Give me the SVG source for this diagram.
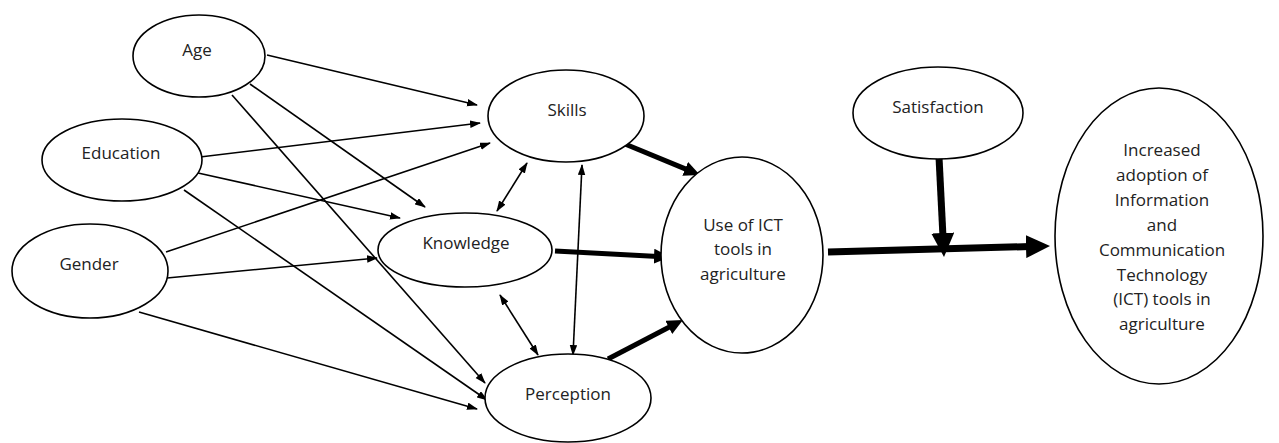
<svg xmlns="http://www.w3.org/2000/svg" width="1279" height="443" viewBox="0 0 1279 443">
  <defs>
    <style>
      .node ellipse { fill: #fff; stroke: #000; stroke-width: 1.6; }
      .node text { font-family: "Open Sans", "Liberation Sans", sans-serif; font-size: 17px; fill: #222; text-anchor: middle; }
      .thin { stroke: #000; stroke-width: 1.6; fill: none; marker-end: url(#ah); }
      .both { marker-start: url(#ah); }
      .thick { stroke: #000; stroke-width: 5; fill: none; marker-end: url(#ahThick); }
      .heavy { stroke: #000; stroke-width: 7; fill: none; marker-end: url(#ahHeavy); }
    </style>
    <marker id="ah" markerUnits="userSpaceOnUse" markerWidth="11" markerHeight="8" refX="10" refY="3.75" orient="auto-start-reverse">
      <path d="M0,0 L11,3.75 L0,7.5 z" fill="#000"/>
    </marker>
    <marker id="ahThick" markerUnits="userSpaceOnUse" markerWidth="17" markerHeight="15" refX="4" refY="7.5" orient="auto">
      <path d="M0,0 L16,7.5 L0,15 z" fill="#000"/>
    </marker>
    <marker id="ahHeavy" markerUnits="userSpaceOnUse" markerWidth="25" markerHeight="23" refX="4" refY="11.5" orient="auto">
      <path d="M0,0 L24,11.5 L0,23 z" fill="#000"/>
    </marker>
  </defs>
  <rect width="1279" height="443" fill="#fff"/>

  <g id="connectors">
    <!-- background factors to mediators -->
    <line class="thin" x1="267" y1="55" x2="477" y2="105"/>
    <line class="thin" x1="200" y1="157" x2="480" y2="123"/>
    <line class="thin" x1="166" y1="252" x2="490" y2="143"/>
    <line class="thin" x1="250" y1="84" x2="425" y2="207"/>
    <line class="thin" x1="198" y1="173" x2="400" y2="218"/>
    <line class="thin" x1="167" y1="278" x2="377" y2="258"/>
    <line class="thin" x1="232" y1="95" x2="485" y2="383"/>
    <line class="thin" x1="184" y1="190" x2="487" y2="400"/>
    <line class="thin" x1="139" y1="312" x2="477" y2="409"/>
    <!-- mutual links between mediators -->
    <line class="thin both" x1="497" y1="211" x2="527" y2="163"/>
    <line class="thin both" x1="582" y1="165" x2="573" y2="355"/>
    <line class="thin both" x1="500" y1="295" x2="538" y2="355"/>
    <!-- mediators to use of ICT -->
    <line class="thick" x1="625" y1="144" x2="688.9" y2="170.4"/>
    <line class="thick" x1="555" y1="251" x2="658" y2="256.4"/>
    <line class="thick" x1="608" y1="359" x2="672.3" y2="325.5"/>
    <!-- use to adoption, moderated by satisfaction -->
    <line class="heavy" x1="828" y1="252" x2="1030" y2="246.5"/>
    <line class="heavy" x1="939" y1="157" x2="943" y2="237"/>
  </g>

  <g id="age" class="node">
    <ellipse cx="199" cy="56" rx="66" ry="41"/>
    <text x="197" y="56">Age</text>
  </g>
  <g id="education" class="node">
    <ellipse cx="122" cy="160" rx="80" ry="41"/>
    <text x="121" y="159">Education</text>
  </g>
  <g id="gender" class="node">
    <ellipse cx="90" cy="271" rx="78" ry="47"/>
    <text x="89" y="270">Gender</text>
  </g>
  <g id="skills" class="node">
    <ellipse cx="566" cy="116" rx="78" ry="46"/>
    <text x="567" y="116">Skills</text>
  </g>
  <g id="knowledge" class="node">
    <ellipse cx="465" cy="250" rx="87" ry="37"/>
    <text x="466" y="249">Knowledge</text>
  </g>
  <g id="perception" class="node">
    <ellipse cx="568" cy="398" rx="83" ry="44"/>
    <text x="568" y="400">Perception</text>
  </g>
  <g id="use-ict" class="node">
    <ellipse cx="742" cy="255" rx="81" ry="98"/>
    <text x="743" y="231">Use of ICT</text>
    <text x="743" y="255">tools in</text>
    <text x="743" y="280">agriculture</text>
  </g>
  <g id="satisfaction" class="node">
    <ellipse cx="938" cy="113" rx="85" ry="46"/>
    <text x="938" y="113">Satisfaction</text>
  </g>
  <g id="adoption" class="node">
    <ellipse cx="1159" cy="236" rx="104" ry="148"/>
    <text x="1162" y="156">Increased</text>
    <text x="1162" y="181">adoption of</text>
    <text x="1162" y="206">Information</text>
    <text x="1162" y="231">and</text>
    <text x="1162" y="256">Communication</text>
    <text x="1162" y="281">Technology</text>
    <text x="1162" y="305">(ICT) tools in</text>
    <text x="1162" y="330">agriculture</text>
  </g>
</svg>
